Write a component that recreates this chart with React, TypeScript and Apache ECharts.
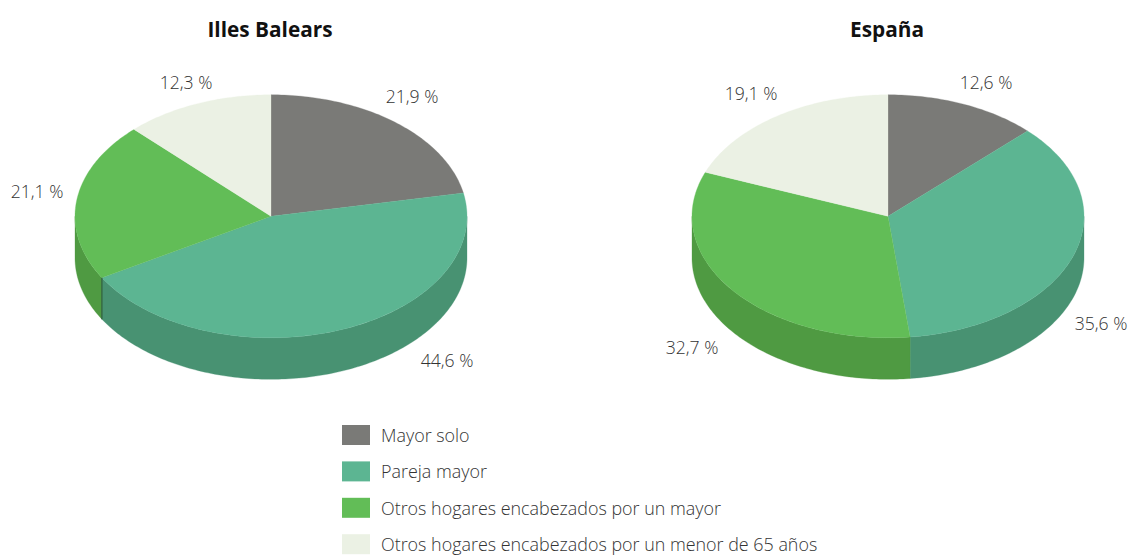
import React, { useEffect, useRef } from "react";
import * as echarts from "echarts";

const categories = [
  "Mayor solo",
  "Pareja mayor",
  "Otros hogares encabezados por un mayor",
  "Otros hogares encabezados por un menor de 65 años",
];
const pieTitles = ["Illes Balears", "España"];
const balears = [21.9, 44.6, 21.1, 12.3];
const espana = [12.6, 35.6, 32.7, 19.1];
const pies = [balears, espana];

const topColors = ["#7a7a77", "#5cb592", "#62bd57", "#ebf1e4"];
const sideColors = ["#5f5f5d", "#489272", "#4f9a42", "#c8cfc0"];

const pieCentersX = [271, 888];
const centerY = 216.3;
const radiusX = 196;
const radiusY = 121.5;
const depth = 41.5;

// label centres, relative to each pie's centre
const labelOffsets = [
  [[141, -120], [176, 144], [-234, -25], [-85, -134]],
  [[98, -134], [213, 107], [-196, 131], [-137, -123]],
];

const FONT = "'Open Sans', sans-serif";
const rad = (d: number) => (d * Math.PI) / 180;

function rim(cx: number, t: number, dy = 0): number[] {
  return [cx + radiusX * Math.sin(rad(t)), centerY - radiusY * Math.cos(rad(t)) + dy];
}

function arcPoints(cx: number, a: number, b: number, dy = 0): number[][] {
  const n = Math.max(2, Math.ceil(Math.abs(b - a)));
  const out: number[][] = [];
  for (let i = 0; i <= n; i++) out.push(rim(cx, a + ((b - a) * i) / n, dy));
  return out;
}

const makeRenderItem = (catIndex: number) => (params: any, api: any) => {
  const pie = api.value(0) as number;
  const value = api.value(1) as number;
  const values = pies[pie];
  const total = values.reduce((s, v) => s + v, 0);
  const before = values.slice(0, catIndex).reduce((s, v) => s + v, 0);
  const t0 = (before / total) * 360;
  const t1 = ((before + value) / total) * 360;
  const cx = pieCentersX[pie];
  const children: any[] = [];

  const s0 = Math.max(t0, 90);
  const s1 = Math.min(t1, 270);
  if (s1 > s0) {
    const points = [...arcPoints(cx, s0, s1), ...arcPoints(cx, s1, s0, depth)];
    children.push({
      type: "polygon",
      shape: { points },
      style: { fill: sideColors[catIndex], stroke: sideColors[catIndex], lineWidth: 0.3 },
    });
  }
  children.push({
    type: "polygon",
    shape: { points: [[cx, centerY], ...arcPoints(cx, t0, t1)] },
    style: { fill: topColors[catIndex], stroke: topColors[catIndex], lineWidth: 0.3 },
  });
  if (pie === 0 && catIndex === 2) {
    const a = rim(cx, t0);
    children.push({
      type: "line",
      shape: { x1: a[0], y1: a[1], x2: a[0], y2: a[1] + depth },
      style: { stroke: "#2f5e3f", lineWidth: 1.2 },
    });
  }
  const off = labelOffsets[pie][catIndex];
  children.push({
    type: "text",
    x: cx + off[0],
    y: 216 + off[1],
    style: {
      text: value.toFixed(1).replace(".", ",") + " %",
      align: "center",
      verticalAlign: "middle",
      fontFamily: FONT,
      fontSize: 17.6,
      fontWeight: 300,
      fill: "#333333",
    },
  });
  return { type: "group", children };
};

export default function App() {
  const ref = useRef<HTMLDivElement>(null);
  useEffect(() => {
    const chart = echarts.init(ref.current!, undefined, { renderer: "svg" });
    chart.setOption({
      animation: false,
      backgroundColor: "#ffffff",
      title: pieTitles.map((text, i) => ({
        text,
        left: pieCentersX[i] - 6,
        top: 13,
        textAlign: "center",
        textStyle: { fontFamily: FONT, fontSize: 20.8, fontWeight: "bold", color: "#111111" },
      })),
      legend: {
        orient: "vertical",
        left: 342,
        top: 425,
        padding: 0,
        itemWidth: 28,
        itemHeight: 20,
        itemGap: 16.4,
        icon: "rect",
        selectedMode: false,
        data: categories,
        textStyle: { fontFamily: FONT, fontSize: 17.9, fontWeight: 300, color: "#333333", padding: [0, 0, 0, 6] },
      },
      series: categories.map((name, i) => ({
        type: "custom",
        name,
        coordinateSystem: "none",
        silent: true,
        itemStyle: { color: topColors[i] },
        data: [
          { value: [0, balears[i]] },
          { value: [1, espana[i]] },
        ],
        renderItem: makeRenderItem(i),
      })),
    });
    return () => chart.dispose();
  }, []);
  return <div ref={ref} style={{ position: "absolute", left: 0, top: 0, width: 1129, height: 555 }} />;
}
